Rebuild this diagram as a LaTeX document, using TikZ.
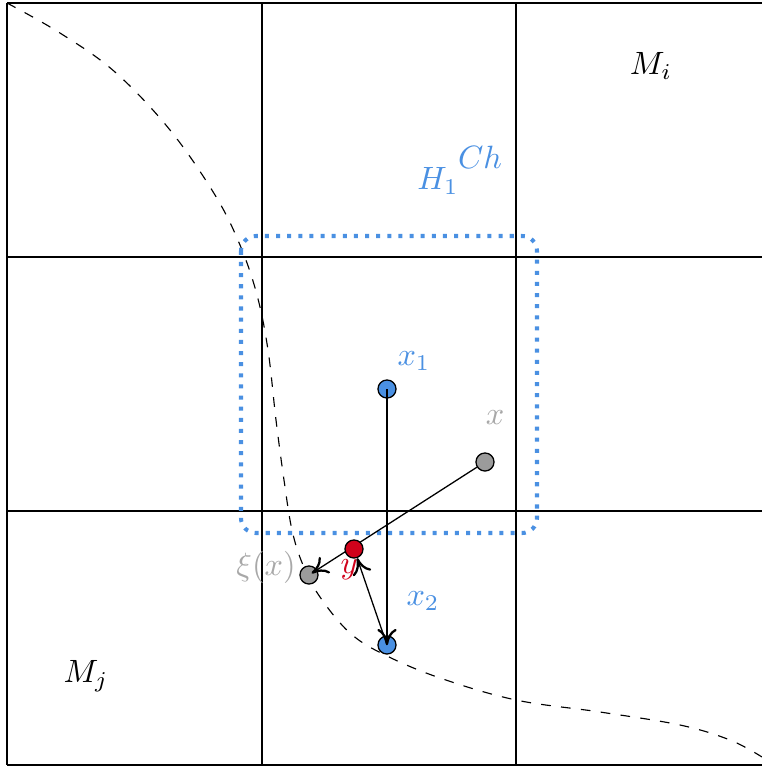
\documentclass[tikz,border=0pt]{standalone}
\usetikzlibrary{arrows.meta}
\definecolor{cblue}{HTML}{4A90E2}
\definecolor{cred}{HTML}{D0021B}
\definecolor{cgray}{HTML}{9B9B9B}
\definecolor{lgray}{HTML}{A8A8A8}
\begin{document}
\begin{tikzpicture}[x=0.31pt,y=-0.31pt,
  gridline/.style={line width=0.4pt},
  pt/.style={circle,draw=black,line width=0.4pt,minimum size=5.6pt,inner sep=0pt},
  arr/.style={line width=0.4pt,-{To[length=5pt,width=6pt,line width=0.7pt]}},
  lbl/.style={inner sep=0pt}]
\useasboundingbox (0,0) rectangle (762,770);
\clip (0,0) rectangle (762,770);
% grid
\draw[gridline] (7,3) -- (771,3);
\draw[gridline] (7,257) -- (771,257);
\draw[gridline] (7,511) -- (771,511);
\draw[gridline] (7,765) -- (771,765);
\draw[gridline] (7,3) -- (7,765);
\draw[gridline] (262,3) -- (262,765);
\draw[gridline] (516,3) -- (516,765);
% dashed curve
\draw[dashed,line width=0.35pt,dash pattern=on 3pt off 3.2pt] plot[smooth,tension=0.6] coordinates {
 (7,3) (60,33) (115,72) (170,130) (215,195) (240,245) (257,295) (268,350) (276,420)
 (284,480) (292,530) (303,565) (320,597) (350,633) (385,655) (440,678) (516,700)
 (600,712) (680,725) (730,740) (762,757)};
% dotted rounded box
\draw[cblue,line width=1.25pt,dash pattern=on 1.25pt off 2.2pt,rounded corners=4.6pt]
 (241,236) rectangle (537,533);
% points
\node[pt,fill=cblue] (x1) at (387,389) {};
\node[pt,fill=cblue] (x2) at (387,645) {};
\node[pt,fill=cgray] (x) at (485,462) {};
\node[pt,fill=cgray] (xi) at (309,575) {};
\draw[arr] (x1.center) -- (x2.center);
\draw[arr,shorten >=1pt] (x) -- (xi.center);
\node[pt,fill=cred] (y) at (354,549) {};
\draw[arr] (x2.center) -- (y);
% labels
\node[lbl,text=cblue] (lx1) at (414,361) {$x_1$};
\node[lbl,text=lgray] (lx) at (495,418) {$x$};
\node[lbl,text=lgray] (lxi) at (266,567) {$\xi(x)$};
\node[lbl,text=cred] (ly) at (349,570) {$y$};
\node[lbl,text=cblue] (lx2) at (423,601) {$x_2$};
\node[lbl] (lmi) at (651,66) {$M_i$};
\node[lbl] (lmj) at (86,676) {$M_j$};
\node[lbl,text=cblue] (lh) at (438,181) {$H_1$};
\node[lbl,text=cblue] (lch) at (480,157) {$Ch$};
\end{tikzpicture}
\end{document}
